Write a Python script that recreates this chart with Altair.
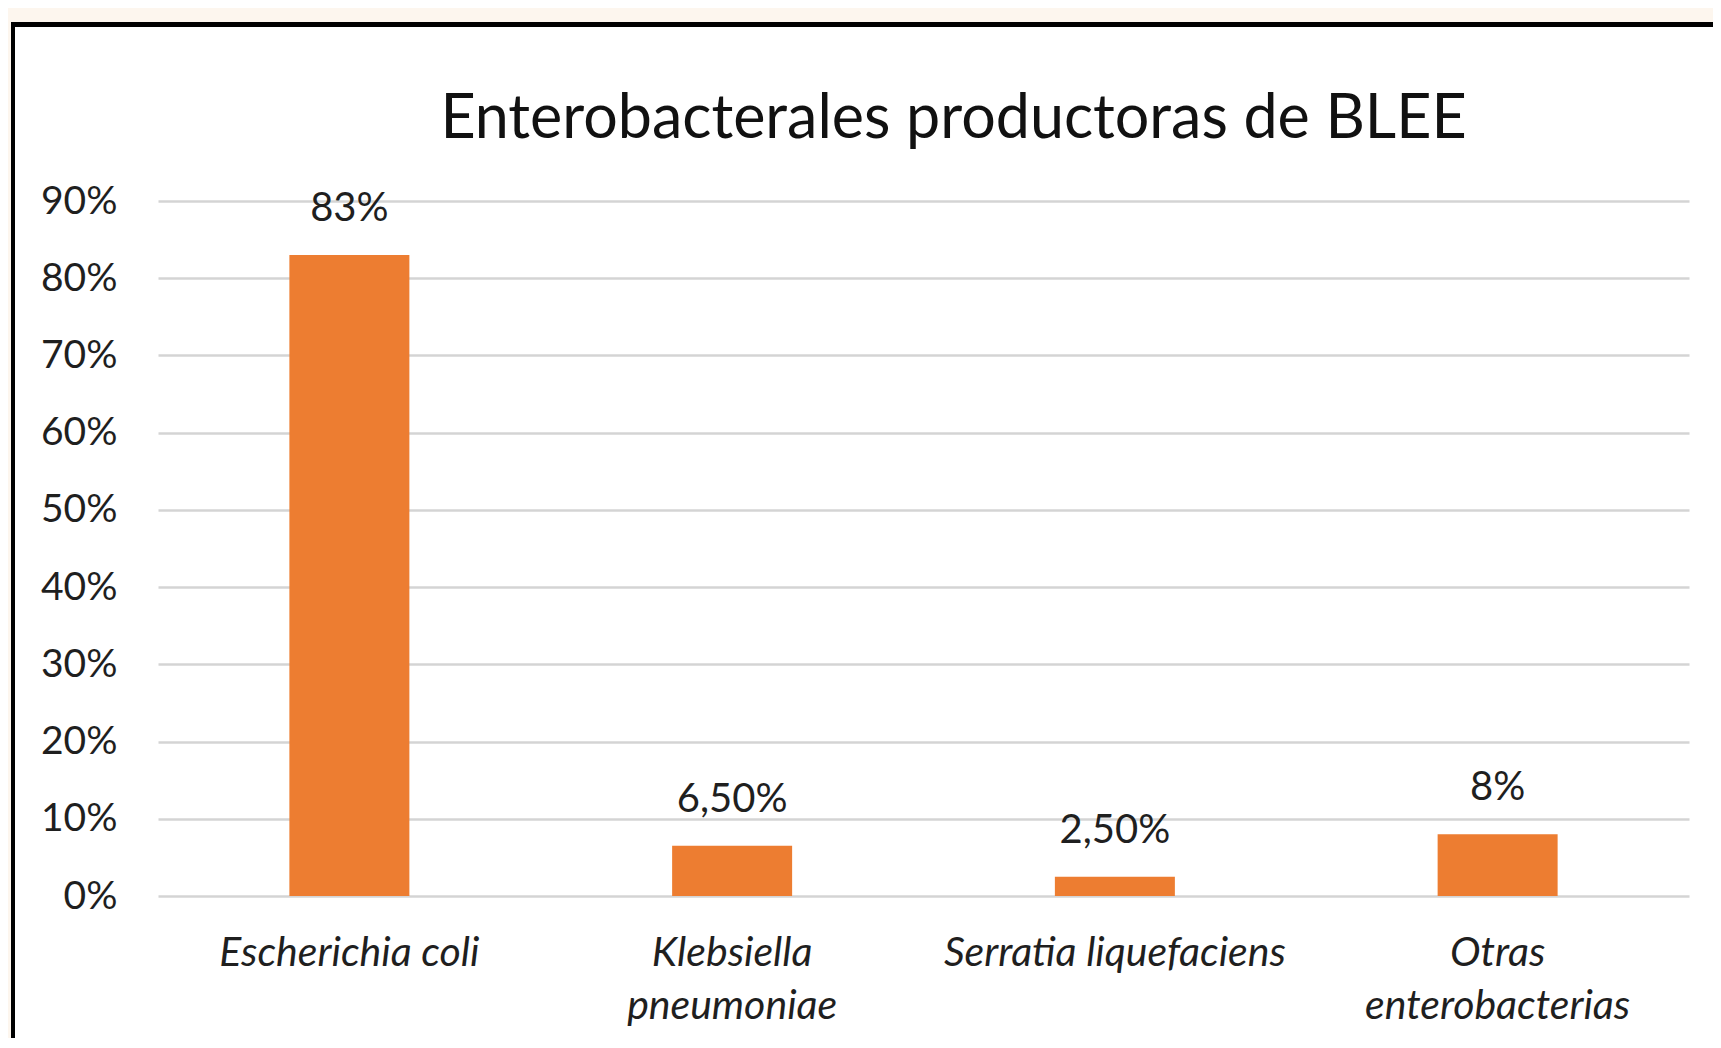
import altair as alt
import pandas as pd

categories = ["Escherichia coli", "Klebsiella pneumoniae", "Serratia liquefaciens", "Otras enterobacterias"]
values = [0.83, 0.065, 0.025, 0.08]
value_labels = ["83%", "6,50%", "2,50%", "8%"]
y_ticks = [0, 0.1, 0.2, 0.3, 0.4, 0.5, 0.6, 0.7, 0.8, 0.9]

df = pd.DataFrame({"cat": categories, "val": values, "lbl": value_labels})
one = pd.DataFrame({"k": [0]})

W, H = 1531, 695
PL, PT, PR, PB = 150, 193, 24, 142
FONT = "Lato"
TXT = "#1f1f1f"

label_expr = ("datum.label == 'Klebsiella pneumoniae' ? ['Klebsiella', 'pneumoniae'] : "
              "datum.label == 'Otras enterobacterias' ? ['Otras', 'enterobacterias'] : datum.label")

x = alt.X("cat:N", sort=categories, title=None,
          scale=alt.Scale(paddingInner=0.5, paddingOuter=0.25),
          axis=alt.Axis(labelAngle=0, domain=False, ticks=False, labelFont=FONT,
                        labelFontSize=41, labelFontStyle="italic", labelColor=TXT,
                        labelPadding=37, labelLineHeight=53, labelExpr=label_expr,
                        labelBaseline="top", labelLimit=0))
y = alt.Y("val:Q", title=None,
          scale=alt.Scale(domain=[0, 0.9], nice=False),
          axis=alt.Axis(values=y_ticks, format=".0%", domain=False, ticks=False,
                        grid=True, gridColor="#d4d4d4", gridWidth=2.5,
                        labelFont=FONT, labelFontSize=39, labelColor=TXT,
                        labelPadding=41))

base = alt.Chart(df)
bars = base.mark_bar(color="#ED7D31", size=120).encode(x=x, y=y)
texts = base.mark_text(font=FONT, fontSize=40, color=TXT, baseline="middle", dy=-46).encode(
    x=alt.X("cat:N", sort=categories), y="val:Q", text="lbl:N")

deco = alt.Chart(one)
cream = "#fdf6ee"
cream_top = deco.mark_rect(color=cream).encode(
    x=alt.value(-PL), x2=alt.value(W + PR), y=alt.value(-PT), y2=alt.value(-179))
cream_left = deco.mark_rect(color=cream).encode(
    x=alt.value(-PL), x2=alt.value(-147), y=alt.value(-179), y2=alt.value(H + PB))
black_top = deco.mark_rect(color="#000000").encode(
    x=alt.value(-147), x2=alt.value(W + PR), y=alt.value(-179), y2=alt.value(-174))
black_left = deco.mark_rect(color="#000000").encode(
    x=alt.value(-147), x2=alt.value(-143), y=alt.value(-179), y2=alt.value(H + PB))

chart = alt.layer(cream_top, cream_left, black_top, black_left, bars, texts).properties(
    width=W, height=H,
    background="white",
    autosize=alt.AutoSizeParams(type="none"),
    padding={"left": PL, "top": PT, "right": PR, "bottom": PB},
    title=alt.TitleParams("Enterobacterales productoras de BLEE", font=FONT, fontSize=61,
                          fontWeight="normal", color="#111111", anchor="middle",
                          frame="group", baseline="alphabetic", offset=-191, dx=30),
).configure_view(strokeWidth=0, stroke="transparent")

chart.save("out.html", embed_options={"renderer": "svg", "actions": False})
